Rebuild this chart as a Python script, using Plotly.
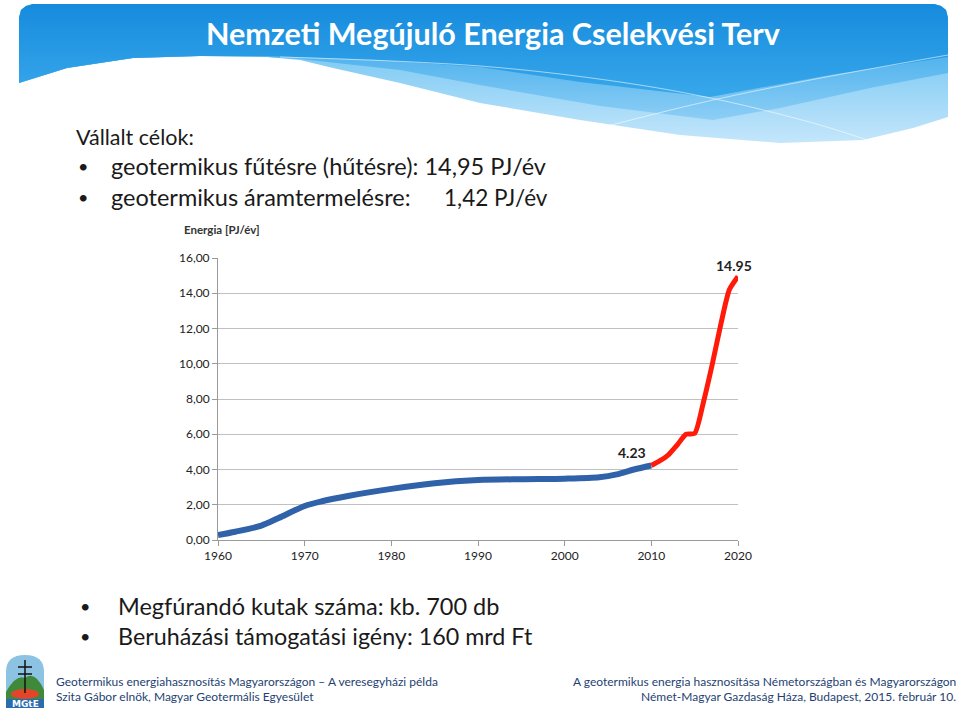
import plotly.graph_objects as go

# adatok a diáról
ev_mult = [1960, 1962, 1965, 1967, 1970, 1972, 1975, 1980, 1985, 1990, 1995, 2000, 2004, 2006, 2008, 2010]
energia_mult = [0.28, 0.47, 0.82, 1.25, 1.93, 2.2, 2.5, 2.9, 3.22, 3.4, 3.45, 3.48, 3.56, 3.72, 4.0, 4.23]
ev_terv = [2010, 2011, 2012, 2013, 2014, 2015, 2016, 2017, 2018, 2019, 2020]
energia_terv = [4.23, 4.5, 4.85, 5.4, 6.0, 6.05, 7.8, 9.9, 12.2, 14.2, 14.95]
y_ertekek = [0, 2, 4, 6, 8, 10, 12, 14, 16]
x_ertekek = [1960, 1970, 1980, 1990, 2000, 2010, 2020]

W, H = 960, 710
FONT = 'Lato'


def px(x):
    return x / W


def py(y):
    return 1 - y / H


fig = go.Figure()

# grafikon
fig.add_trace(go.Scatter(x=ev_mult, y=energia_mult, mode='lines',
                         line=dict(color='#2f62a8', width=6, shape='spline', smoothing=0.8),
                         hoverinfo='skip', showlegend=False))
fig.add_trace(go.Scatter(x=ev_terv, y=energia_terv, mode='lines',
                         line=dict(color='#ff1a0a', width=5, shape='spline', smoothing=0.6),
                         hoverinfo='skip', showlegend=False))

# fejléc (pixel koordináták a teljes ábrán)
teteje = [(948, 18), (946, 10), (941, 6), (934, 4), (33, 4), (26, 6), (21, 10), (19, 18)]
feher_hatar = [(19, 83), (67, 68), (133, 58), (200, 56), (267, 57), (300, 60), (333, 68), (400, 83),
               (480, 103), (580, 120), (680, 135), (780, 143), (863, 140), (913, 128), (948, 117)]
kozep_hatar = [(19, 83), (67, 68), (133, 58), (200, 56), (267, 57), (300, 59), (400, 70), (480, 85),
               (600, 106), (713, 120), (780, 108), (870, 88), (948, 73)]
fo_hatar = [(19, 83), (67, 68), (133, 58), (200, 56), (267, 56), (300, 57), (380, 60), (480, 67),
            (580, 82), (710, 97), (830, 75), (948, 57)]


def sokszog(hatar, felso, also, y0, y1):
    pts = hatar + teteje
    xs = [p[0] for p in pts] + [pts[0][0]]
    ys = [p[1] for p in pts] + [pts[0][1]]
    fig.add_trace(go.Scatter(x=xs, y=ys, xaxis='x2', yaxis='y2', mode='lines', fill='toself',
                             line=dict(width=0),
                             fillgradient=dict(type='vertical', start=y0, stop=y1,
                                               colorscale=[[0, felso], [1, also]]),
                             hoverinfo='skip', showlegend=False))


sokszog(feher_hatar, '#7ecaf4', '#c4e6fb', 55, 143)
sokszog(kozep_hatar, '#55b5ee', '#8dcef5', 60, 120)
sokszog(fo_hatar, '#168bdd', '#36a6ea', 4, 90)

# halvány csíkok
for cs in [[(280, 57), (480, 66), (620, 82), (720, 100), (820, 125), (870, 141)],
           [(600, 128), (700, 103), (800, 82), (948, 55)]]:
    fig.add_trace(go.Scatter(x=[p[0] for p in cs], y=[p[1] for p in cs], xaxis='x2', yaxis='y2',
                             mode='lines', line=dict(color='rgba(255,255,255,0.55)', width=1, shape='spline'),
                             hoverinfo='skip', showlegend=False))

# logó
shapes = [
    dict(type='path', path='M 6,708 L 6,672 Q 6,655 25,655 Q 44,655 44,672 L 44,708 Z',
         fillcolor='#8cc3e3', line=dict(width=0)),
    dict(type='path', path='M 6,692 Q 16,674 25,678 Q 35,670 44,690 L 44,700 L 6,700 Z',
         fillcolor='#3f8a3a', line=dict(width=0)),
    dict(type='circle', x0=11, x1=39, y0=689, y1=699, fillcolor='#e3452a', line=dict(width=0)),
    dict(type='rect', x0=6, x1=44, y0=699, y1=708, fillcolor='#2b6cb0', line=dict(width=0)),
    dict(type='line', x0=25, x1=25, y0=660, y1=693, line=dict(color='#111', width=1.5)),
    dict(type='line', x0=18, x1=32, y0=667, y1=667, line=dict(color='#111', width=1.5)),
    dict(type='line', x0=18, x1=32, y0=674, y1=674, line=dict(color='#111', width=1.5)),
]
for s in shapes:
    s.update(xref='x2', yref='y2', layer='above')

szoveg = '#1a1a1a'
labjegy = '#253f73'
annotations = [
    dict(x=px(493), y=py(33), text='<b>Nemzeti Megújuló Energia Cselekvési Terv</b>',
         font=dict(family=FONT, size=30.5, color='white')),
    dict(x=px(74), y=py(137), text='Vállalt célok:', xanchor='left', font=dict(size=21.5)),
    dict(x=px(76), y=py(166), text='•', xanchor='left', font=dict(size=18)),
    dict(x=px(109), y=py(166), text='geotermikus fűtésre (hűtésre): 14,95 PJ/év', xanchor='left', font=dict(size=23.5)),
    dict(x=px(76), y=py(197), text='•', xanchor='left', font=dict(size=18)),
    dict(x=px(109), y=py(197), text='geotermikus áramtermelésre:', xanchor='left', font=dict(size=23.5)),
    dict(x=px(442), y=py(197), text='1,42 PJ/év', xanchor='left', font=dict(size=22.5)),
    dict(x=px(78), y=py(606), text='•', xanchor='left', font=dict(size=18)),
    dict(x=px(116), y=py(606), text='Megfúrandó kutak száma: kb. 700 db', xanchor='left', font=dict(size=23.5)),
    dict(x=px(78), y=py(636), text='•', xanchor='left', font=dict(size=18)),
    dict(x=px(116), y=py(636), text='Beruházási támogatási igény: 160 mrd Ft', xanchor='left', font=dict(size=23.3)),
    dict(x=px(182), y=py(229), text='<b>Energia [PJ/év]</b>', xanchor='left', font=dict(size=11.5, color='#333')),
    dict(x=px(54), y=py(681), text='Geotermikus energiahasznosítás Magyarországon – A veresegyházi példa',
         xanchor='left', font=dict(size=12, color=labjegy)),
    dict(x=px(54), y=py(696), text='Szita Gábor elnök, Magyar Geotermális Egyesület',
         xanchor='left', font=dict(size=12, color=labjegy)),
    dict(x=px(958), y=py(681), text='A geotermikus energia hasznosítása Németországban és Magyarországon',
         xanchor='right', font=dict(size=12, color=labjegy)),
    dict(x=px(958), y=py(696), text='Német-Magyar Gazdaság Háza, Budapest, 2015. február 10.',
         xanchor='right', font=dict(size=12, color=labjegy)),
    dict(x=px(25), y=py(703.5), text='<b>MGtE</b>', font=dict(size=9, color='white', family='DejaVu Sans')),
]
for a in annotations:
    a['xref'] = 'paper'
    a['yref'] = 'paper'
    a.setdefault('xanchor', 'center')
    a['yanchor'] = 'middle'

# adatcímkék a görbe végein
annotations += [
    dict(x=2010, y=energia_terv[0], xref='x', yref='y', text='<b>4.23</b>', xanchor='right', yanchor='bottom',
         xshift=-3, yshift=2, font=dict(size=14, color='#222')),
    dict(x=2020, y=energia_terv[-1], xref='x', yref='y', text='<b>14.95</b>', xanchor='center', yanchor='bottom',
         xshift=-4, yshift=1, font=dict(size=14, color='#222')),
]
for a in annotations:
    a['showarrow'] = False
    a['font'].setdefault('family', FONT)
    a['font'].setdefault('color', szoveg)

fig.update_layout(
    width=W, height=H,
    margin=dict(l=0, r=0, t=0, b=0, pad=0, autoexpand=False),
    paper_bgcolor='white', plot_bgcolor='rgba(0,0,0,0)',
    separators=', ',
    font=dict(family=FONT, color='#333'),
    showlegend=False,
    xaxis=dict(domain=[px(218), px(738)], range=[1960, 2020], tickvals=x_ertekek,
               showgrid=False, zeroline=False, showline=True, linecolor='#9a9a9a', linewidth=1,
               ticks='outside', ticklen=5, tickcolor='#9a9a9a', tickfont=dict(size=12, color='#222'),
               anchor='y', fixedrange=True, automargin=False),
    yaxis=dict(domain=[py(540), py(258)], range=[0, 16], tickvals=y_ertekek, tickformat='.2f',
               showgrid=True, gridcolor='#c0c0c0', gridwidth=1, zeroline=False,
               showline=True, linecolor='#9a9a9a', linewidth=1,
               ticks='outside', ticklen=5, tickcolor='#9a9a9a', tickfont=dict(size=12, color='#222'),
               anchor='x', fixedrange=True, automargin=False),
    xaxis2=dict(domain=[0, 1], range=[0, W], visible=False, anchor='y2', fixedrange=True),
    yaxis2=dict(domain=[0, 1], range=[H, 0], visible=False, anchor='x2', fixedrange=True),
    shapes=shapes,
    annotations=annotations,
)

fig.write_html('out.html', config={'displayModeBar': False},
               post_script="document.body.style.margin='0';")
